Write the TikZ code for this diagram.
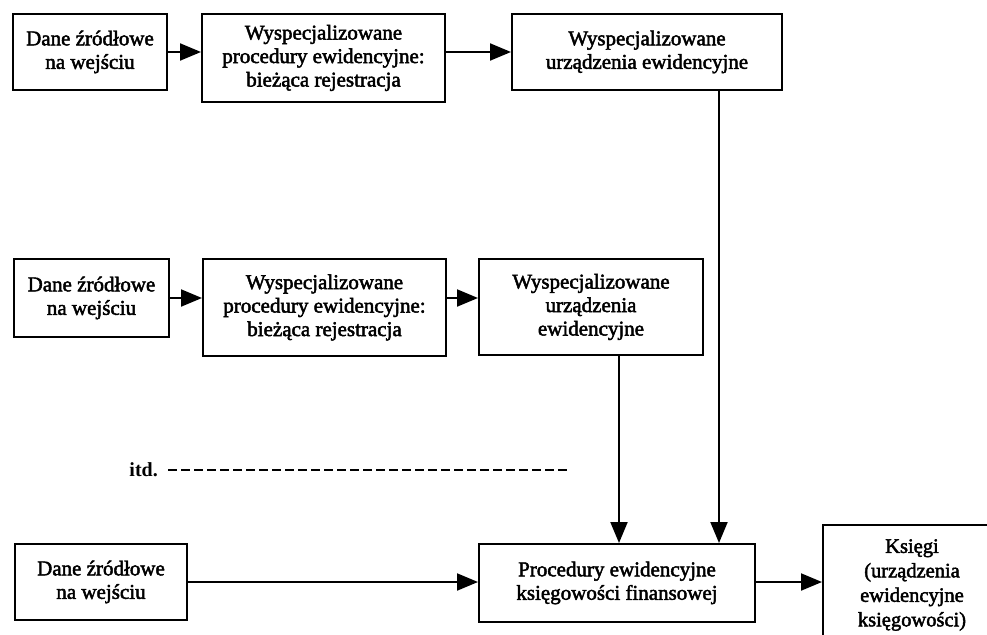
\documentclass[tikz,border=0pt]{standalone}
\usepackage{fontspec}
\setmainfont{Liberation Serif}
\newfontfamily\inkfont{Liberation Serif}[FakeBold=2.2]
\usetikzlibrary{arrows.meta}
\begin{document}
\begin{tikzpicture}[x=1pt,y=-1pt,
  box/.style={draw, line width=2pt, inner sep=0pt, align=center,
    font=\inkfont\fontsize{21}{23.5}\selectfont},
  arr/.style={line width=2pt, -{Triangle[length=21pt,width=17pt]}},
  dashline/.style={line width=2pt, dash pattern=on 9pt off 4pt}]
\useasboundingbox (0,0) rectangle (987,634);
\fill[white] (0,0) rectangle (987,634);

% top row
\node[box, minimum width=154pt, minimum height=76pt] (A1) at (90,52) {Dane źródłowe\\na wejściu};
\node[box, minimum width=243pt, minimum height=88pt] (A2) at (323.5,58) {Wyspecjalizowane\\procedury ewidencyjne:\\bieżąca rejestracja};
\node[box, minimum width=270pt, minimum height=76pt] (A3) at (647,52) {Wyspecjalizowane\\urządzenia ewidencyjne};

% middle row
\node[box, minimum width=155pt, minimum height=78pt] (B1) at (91.5,298) {Dane źródłowe\\na wejściu};
\node[box, minimum width=243pt, minimum height=97pt] (B2) at (324.5,307.5) {Wyspecjalizowane\\procedury ewidencyjne:\\bieżąca rejestracja};
\node[box, minimum width=224pt, minimum height=96pt] (B3) at (591,307) {Wyspecjalizowane\\urządzenia\\ewidencyjne};

% bottom row
\node[box, minimum width=172pt, minimum height=76pt] (C1) at (101,582) {Dane źródłowe\\na wejściu};
\node[box, minimum width=276pt, minimum height=78pt] (C2) at (617,583) {Procedury ewidencyjne\\księgowości finansowej};
\node[box, minimum width=178pt, minimum height=120pt, font=\inkfont\fontsize{20.5}{24.5}\selectfont] (C3) at (912,585) {Księgi\\(urządzenia\\ewidencyjne\\księgowości)};

% itd.
\node[anchor=east, inner sep=0pt, font=\bfseries\fontsize{20}{23}\selectfont] (itd) at (158,470) {itd.};
\coordinate (dashend) at (567,470);
\draw[dashline] ([xshift=10pt]itd.east) -- (dashend);

% horizontal arrows
\draw[arr] (A1.east) -- (A1.east -| A2.west);
\draw[arr] (A2.east |- A3.west) -- (A3.west);
\draw[arr] (B1.east) -- (B1.east -| B2.west);
\draw[arr] (B2.east |- B1.east) -- (B1.east -| B3.west);
\draw[arr] (C1.east) -- (C1.east -| C2.west);
\draw[arr] (C2.east |- C1.east) -- (C1.east -| C3.west);

% vertical arrows
\coordinate (xa) at (719,0);
\coordinate (xb) at (619,0);
\draw[arr] (A3.south -| xa) -- (C2.north -| xa);
\draw[arr] (B3.south -| xb) -- (C2.north -| xb);
\end{tikzpicture}
\end{document}
